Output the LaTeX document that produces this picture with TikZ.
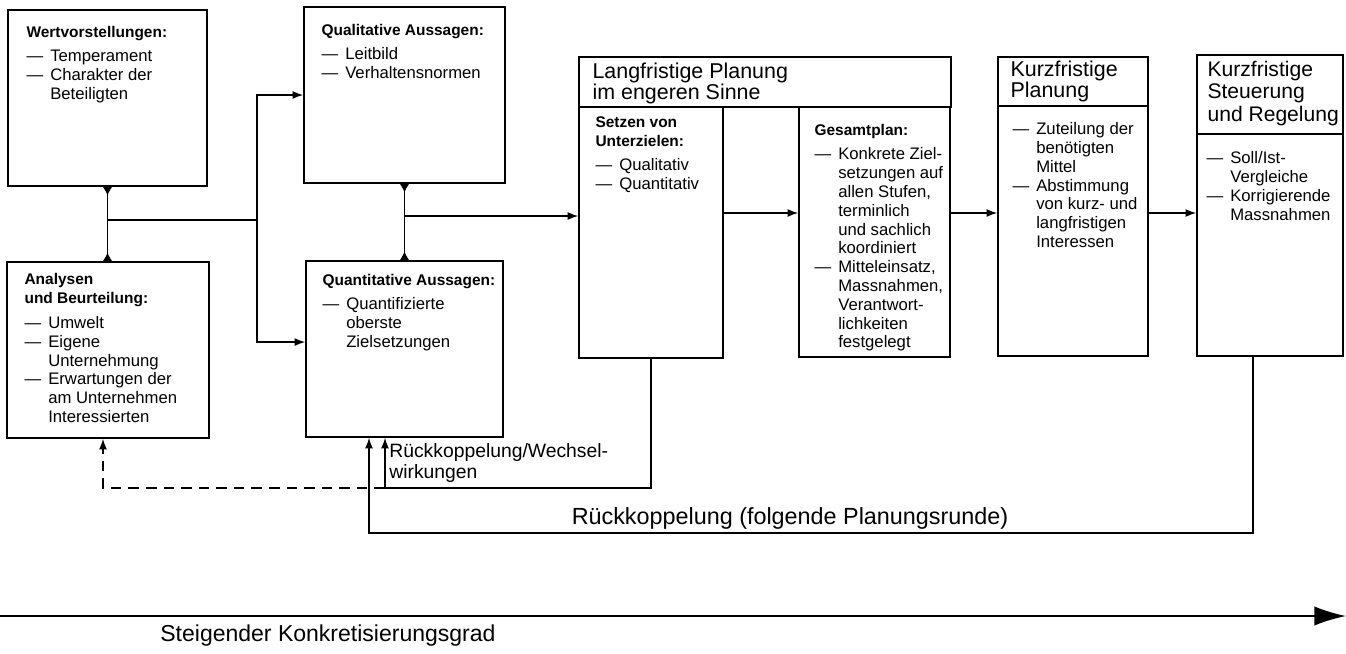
\documentclass[tikz,border=0pt]{standalone}
\usepackage{fontspec}
\setmainfont{Liberation Sans}
\usetikzlibrary{arrows.meta,positioning,fit}

\newcommand{\litem}{\makebox[13.5pt][l]{---}}
\newcommand{\lcont}{\hspace*{13.5pt}}
\newcommand{\hd}[1]{{\fontsize{8.8}{10.6}\selectfont\bfseries #1}}

\tikzset{foot/.tip={Latex[reversed,length=5pt,width=5.5pt]}}

\begin{document}
\begin{tikzpicture}[x=0.02cm,y=-0.02cm,>={Latex[length=6pt,width=4.5pt]},
    box/.style={draw,line width=0.9pt,inner sep=0pt},
    txt/.style={inner sep=0pt,align=left,font=\fontsize{9.5}{10.7}\selectfont},
    head/.style={inner sep=0pt,align=left,font=\fontsize{12.2}{12.3}\selectfont},
    lab/.style={inner sep=0pt,align=left,font=\fontsize{11}{12.3}\selectfont},
    link/.style={line width=0.8pt}]
    \useasboundingbox (0,0) rectangle (1346,653);

    % boxes
    \node[box,fit={(8,10) (207,186)}] (wert) {};
    \node[box,fit={(7,262) (209,438)}] (ana) {};
    \node[box,fit={(304,7) (505,183)}] (qual) {};
    \node[box,fit={(306,261) (503,437)}] (quant) {};
    \node[box,fit={(579,57) (951,107)}] (langHead) {};
    \node[box,fit={(579,107) (723,358)}] (setzen) {};
    \node[box,fit={(799,107) (950,357)}] (gesamt) {};
    \node[box,fit={(998,57) (1148,106)}] (kpHead) {};
    \node[box,fit={(998,106) (1148,356)}] (kpBody) {};
    \node[box,fit={(1197,55) (1343,134)}] (ksHead) {};
    \node[box,fit={(1197,134) (1343,356)}] (ksBody) {};

    % texts
    \node[txt,below right=0.34cm and 0.38cm of wert.north west] (wertT)
        {\hd{Wertvorstellungen:}\\[3pt]
         \litem Temperament\\
         \litem Charakter der\\
         \lcont Beteiligten};
    \node[txt,below right=0.24cm and 0.36cm of ana.north west] (anaT)
        {\hd{Analysen}\\
         \hd{und Beurteilung:}\\[3.5pt]
         \litem Umwelt\\
         \litem Eigene\\
         \lcont Unternehmung\\
         \litem Erwartungen der\\
         \lcont am Unternehmen\\
         \lcont Interessierten};
    \node[txt,below right=0.36cm and 0.36cm of qual.north west] (qualT)
        {\hd{Qualitative Aussagen:}\\[3pt]
         \litem Leitbild\\
         \litem Verhaltensnormen};
    \node[txt,below right=0.28cm and 0.34cm of quant.north west] (quantT)
        {\hd{Quantitative Aussagen:}\\[3pt]
         \litem Quantifizierte\\
         \lcont oberste\\
         \lcont Zielsetzungen};
    \node[head,below right=0.12cm and 0.28cm of langHead.north west] (langT)
        {Langfristige Planung\\im engeren Sinne};
    \node[txt,below right=0.20cm and 0.34cm of setzen.north west] (setzenT)
        {\hd{Setzen von}\\
         \hd{Unterzielen:}\\[3pt]
         \litem Qualitativ\\
         \litem Quantitativ};
    \node[txt,below right=0.36cm and 0.32cm of gesamt.north west] (gesamtT)
        {\hd{Gesamtplan:}\\[3pt]
         \litem Konkrete Ziel-\\
         \lcont setzungen auf\\
         \lcont allen Stufen,\\
         \lcont terminlich\\
         \lcont und sachlich\\
         \lcont koordiniert\\
         \litem Mitteleinsatz,\\
         \lcont Massnahmen,\\
         \lcont Verantwort-\\
         \lcont lichkeiten\\
         \lcont festgelegt};
    \node[head,below right=0.08cm and 0.26cm of kpHead.north west] (kpT)
        {Kurzfristige\\Planung};
    \node[txt,below right=0.34cm and 0.30cm of kpBody.north west] (kpB)
        {\litem Zuteilung der\\
         \lcont benötigten\\
         \lcont Mittel\\
         \litem Abstimmung\\
         \lcont von kurz- und\\
         \lcont langfristigen\\
         \lcont Interessen};
    \node[head,font=\fontsize{12}{12.6}\selectfont,below right=0.14cm and 0.22cm of ksHead.north west] (ksT)
        {Kurzfristige\\Steuerung\\und Regelung};
    \node[txt,below right=0.36cm and 0.20cm of ksBody.north west] (ksB)
        {\litem Soll/Ist-\\
         \lcont Vergleiche\\
         \litem Korrigierende\\
         \lcont Massnahmen};

    % connectors
    \coordinate (j1) at (107,220);
    \coordinate (split) at (257,220);
    \coordinate (j2) at (405,216);
    \coordinate (row) at (0,213);
    \draw[link,foot-foot] (wert.south) -- (wert.south |- ana.north);
    \draw[link] (j1) -- (split);
    \draw[link,->] (split) |- (qual.west);
    \draw[link,->] (split) |- (quant.176);
    \draw[link,foot-foot] (qual.south) -- (qual.south |- quant.north);
    \draw[link,->] (j2) -- (j2 -| setzen.west);
    \draw[link,->] (setzen.east |- row) -- (gesamt.west |- row);
    \draw[link,->] (gesamt.east |- row) -- (kpBody.west |- row);
    \draw[link,->] (kpBody.east |- row) -- (ksBody.west |- row);

    % feedback
    \coordinate (fb1) at (385,488);
    \coordinate (fb0) at (103,488);
    \coordinate (fb2) at (1253,533);
    \coordinate (fb3) at (369,533);
    \draw[link,->] (setzen.south) |- (fb1) -- (fb1 |- quant.south);
    \draw[link,dash pattern=on 6pt off 4pt,->] (fb1) -- (fb0) -- (fb0 |- ana.south);
    \draw[link,->] (fb2 |- ksBody.south) -- (fb2) -- (fb3) -- (fb3 |- quant.south);
    \node[lab,anchor=north west] (wechsel) at (389,443) {Rückkoppelung/Wechsel-\\wirkungen};
    \node[lab,font=\fontsize{13.3}{14}\selectfont] (runde) at (790,518) {Rückkoppelung (folgende Planungsrunde)};

    % axis
    \coordinate (axL) at (0,616);
    \coordinate (axR) at (1346,616);
    \draw[line width=1pt,-{Latex[length=18pt,width=11pt]}] (axL) -- (axR);
    \node[lab,font=\fontsize{13.1}{14}\selectfont,anchor=west] (grad) at (160,636) {Steigender Konkretisierungsgrad};
\end{tikzpicture}
\end{document}
